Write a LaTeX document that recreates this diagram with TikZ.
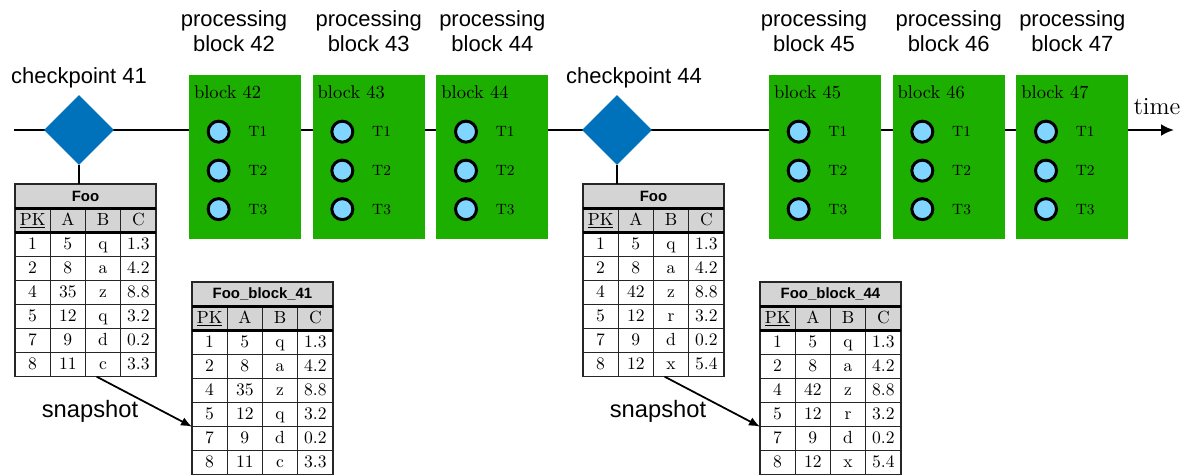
\documentclass[tikz,border=0pt]{standalone}
\usepackage{fontspec}
\setsansfont{Liberation Sans}
\usetikzlibrary{positioning, shapes.geometric, matrix, arrows.meta}

\definecolor{blkgreen}{RGB}{28,175,0}
\definecolor{cpblue}{RGB}{0,113,187}
\definecolor{txblue}{RGB}{128,214,255}
\definecolor{hdrgray}{RGB}{212,212,212}

% one table: name, centre of the title, title, data rows
\newcommand{\dbtable}[4]{%
  \node[tbltitle] (#1) at (#2) {#3};
  \matrix (#1m) [tblbody, below=0pt of #1] {\underline{PK} \& A \& B \& C \\ #4};
  \draw[tblrule] (#1m-1-1.north west) -- (#1m-1-4.north east);
  \draw[tblrule] (#1m-1-1.south west) -- (#1m-1-4.south east);
}

\begin{document}
\begin{tikzpicture}[x=0.02cm, y=-0.02cm,
    blk/.style={rectangle, fill=blkgreen, minimum width=2.24cm, minimum height=3.28cm, inner sep=0pt},
    blklbl/.style={anchor=base west, inner sep=0pt, font=\fontsize{10.5}{12}\selectfont},
    txn/.style={circle, draw=black, line width=1.7pt, fill=txblue, minimum size=0.42cm, inner sep=0pt},
    tlbl/.style={inner sep=0pt, font=\fontsize{8.5}{10}\selectfont},
    proclbl/.style={align=center, inner sep=0pt, font=\sffamily\fontsize{12.5}{14.2}\selectfont},
    checkpoint/.style={diamond, fill=cpblue, minimum width=1.4cm, minimum height=1.4cm, inner sep=0pt},
    cplbl/.style={inner sep=0pt, font=\sffamily\fontsize{12.5}{15}\selectfont},
    snaplbl/.style={inner sep=0pt, font=\sffamily\fontsize{13.5}{16}\selectfont},
    tbltitle/.style={draw=black!85, line width=0.8pt, fill=hdrgray, minimum width=2.82cm, minimum height=0.48cm,
      inner sep=0pt, outer sep=0pt, font=\sffamily\bfseries\fontsize{8.5}{10}\selectfont},
    tblbody/.style={matrix of nodes, ampersand replacement=\&, inner sep=0pt, outer sep=0pt,
      column sep=-0.8pt, row sep=-0.8pt,
      nodes={draw=black!85, line width=0.8pt, minimum width=0.705cm, minimum height=0.48cm, inner sep=0pt,
        outer sep=0pt, text height=7pt, text depth=2pt, font=\fontsize{10}{11}\selectfont},
      row 1/.style={nodes={fill=hdrgray}}},
    tblrule/.style={line width=1.4pt, black},
    timeline/.style={-{Latex[length=0.26cm, width=0.24cm]}, line width=1.3pt},
    snaparrow/.style={-{Latex[length=0.22cm, width=0.18cm]}, line width=1pt}]
    \useasboundingbox (0,0) rectangle (1188,474);

    % time line
    \coordinate (t0) at (14,130);
    \coordinate (t1) at (1174,130);
    \draw[timeline] (t0) -- (t1);
    \node[anchor=south, inner sep=0pt, font=\fontsize{14}{16}\selectfont] (timelbl)
        at ([xshift=-0.34cm, yshift=0.3cm]t1) {time};

    % blocks
    \node[blk] (b42) at (245,157) {};
    \node[blk, right=0.22cm of b42] (b43) {};
    \node[blk, right=0.22cm of b43] (b44) {};
    \node[blk] (b45) at (825,157) {};
    \node[blk, right=0.22cm of b45] (b46) {};
    \node[blk, right=0.22cm of b46] (b47) {};

    \foreach \n/\s in {42/-0.22, 43/0, 44/0, 45/-0.22, 46/0, 47/0} {
        \node[proclbl, above=0.46cm of b\n, xshift=\s cm] (p\n) {processing\\block \n};
        \node[blklbl] (b\n-lbl) at ([xshift=0.1cm, yshift=-0.48cm]b\n.north west) {block \n};
        \foreach \k/\y in {1/1.14, 2/1.92, 3/2.69} {
            \node[txn] (b\n-t\k) at ([xshift=0.6cm, yshift=-\y cm]b\n.north west) {};
            \node[tlbl, right=0.35cm of b\n-t\k] (b\n-t\k-lbl) {T\k};
        }
    }

    % checkpoints
    \node[checkpoint] (cp41) at (79,130) {};
    \node[checkpoint] (cp44) at (617,130) {};
    \node[cplbl, above=0.12cm of cp41] (cp41lbl) {checkpoint 41};
    \node[cplbl, above=0.12cm of cp44, xshift=0.34cm] (cp44lbl) {checkpoint 44};

    % tables
    \dbtable{foo41}{85.5,196}{Foo}{1 \& 5 \& q \& 1.3 \\ 2 \& 8 \& a \& 4.2 \\ 4 \& 35 \& z \& 8.8 \\
        5 \& 12 \& q \& 3.2 \\ 7 \& 9 \& d \& 0.2 \\ 8 \& 11 \& c \& 3.3 \\}
    \dbtable{snap41}{262.5,294}{Foo\_block\_41}{1 \& 5 \& q \& 1.3 \\ 2 \& 8 \& a \& 4.2 \\ 4 \& 35 \& z \& 8.8 \\
        5 \& 12 \& q \& 3.2 \\ 7 \& 9 \& d \& 0.2 \\ 8 \& 11 \& c \& 3.3 \\}
    \dbtable{foo44}{653.5,196}{Foo}{1 \& 5 \& q \& 1.3 \\ 2 \& 8 \& a \& 4.2 \\ 4 \& 42 \& z \& 8.8 \\
        5 \& 12 \& r \& 3.2 \\ 7 \& 9 \& d \& 0.2 \\ 8 \& 12 \& x \& 5.4 \\}
    \dbtable{snap44}{830.5,294}{Foo\_block\_44}{1 \& 5 \& q \& 1.3 \\ 2 \& 8 \& a \& 4.2 \\ 4 \& 42 \& z \& 8.8 \\
        5 \& 12 \& r \& 3.2 \\ 7 \& 9 \& d \& 0.2 \\ 8 \& 12 \& x \& 5.4 \\}

    \draw[line width=1pt] (cp41.south) -- (cp41.south |- foo41.north);
    \draw[line width=1pt] (cp44.south) -- (cp44.south |- foo44.north);

    % snapshots
    \draw[snaparrow] ([xshift=-0.13cm]foo41m-7-3.south) -- (snap41m-5-1.south west);
    \draw[snaparrow] ([xshift=-0.13cm]foo44m-7-3.south) -- (snap44m-5-1.south west);
    \node[snaplbl] (snap41lbl) at (90,411) {snapshot};
    \node[snaplbl] (snap44lbl) at (658,411) {snapshot};
\end{tikzpicture}
\end{document}
